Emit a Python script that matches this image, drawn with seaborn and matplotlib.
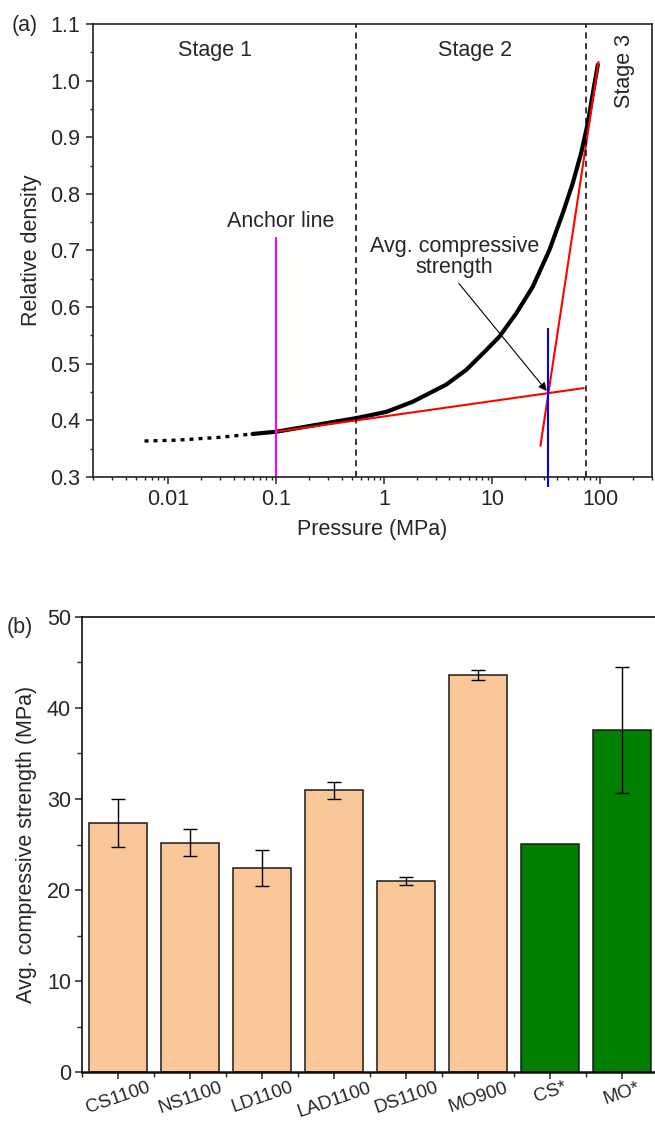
import numpy as np
import pandas as pd
import seaborn as sns
import matplotlib.pyplot as plt
from matplotlib.ticker import FixedLocator, NullFormatter, LogLocator

# ---- panel (a): densification curve ----
pressure = [0.006, 0.0118, 0.0296, 0.06, 0.1, 0.25, 0.547, 1.04, 1.38, 1.83,
            2.80, 3.72, 5.70, 8.74, 11.6, 16.6, 23.6, 33.7, 44.8, 55.4, 66.2,
            76.3, 85.0, 94.5]
rel_density = [0.3636, 0.365, 0.370, 0.376, 0.380, 0.393, 0.404, 0.415, 0.424,
               0.433, 0.451, 0.463, 0.489, 0.524, 0.548, 0.589, 0.636, 0.701,
               0.766, 0.819, 0.872, 0.925, 0.978, 1.028]

tan_low_x = [0.1, 70.0]
tan_low_y = [0.380, 0.457]
tan_high_x = [27.8, 96.0]
tan_high_y = [0.355, 1.033]

stage_bounds = [0.547, 73.7]
anchor_p = 0.1
strength_p = 33.0

# ---- panel (b): compressive strength ----
samples = ['CS1100', 'NS1100', 'LD1100', 'LAD1100', 'DS1100', 'MO900', 'CS*', 'MO*']
strength = [27.35, 25.2, 22.45, 30.95, 20.97, 43.6, 25.06, 37.6]
strength_err = [2.65, 1.45, 2.0, 0.95, 0.42, 0.6, np.nan, 6.9]
group = ['this', 'this', 'this', 'this', 'this', 'this', 'ref', 'ref']

sns.set_theme(style='ticks')
plt.rcParams['font.family'] = ['Liberation Sans', 'DejaVu Sans']
FS = 15.5
plt.rcParams['font.size'] = FS
plt.rcParams['axes.labelsize'] = FS
plt.rcParams['xtick.labelsize'] = FS
plt.rcParams['ytick.labelsize'] = FS
plt.rcParams['axes.linewidth'] = 1.2
plt.rcParams['xtick.major.width'] = 1.1
plt.rcParams['ytick.major.width'] = 1.1
plt.rcParams['xtick.minor.width'] = 1.0
plt.rcParams['ytick.minor.width'] = 1.0

W, H = 655, 1122
fig = plt.figure(figsize=(W / 100, H / 100), dpi=100)
ax1 = fig.add_axes([93 / W, 1 - 477 / H, (652 - 93) / W, (477 - 24) / H])
ax2 = fig.add_axes([82 / W, 1 - 1072.3 / H, (658 - 82) / W, (1072.3 - 616.7) / H])

# ---------------- (a) ----------------
curve = pd.DataFrame({'p': pressure, 'rd': rel_density})
sparse = curve[curve['p'] <= 0.06]
dense = curve[curve['p'] >= 0.06]
sns.lineplot(data=sparse, x='p', y='rd', ax=ax1, color='black', lw=2.4,
             linestyle=(0, (1.2, 1.5)), sort=True)
sns.lineplot(data=dense, x='p', y='rd', ax=ax1, color='black', lw=3.0, sort=True)

sns.lineplot(x=tan_low_x, y=tan_low_y, ax=ax1, color='red', lw=1.5)
sns.lineplot(x=tan_high_x, y=tan_high_y, ax=ax1, color='red', lw=1.5)

for b in stage_bounds:
    ax1.axvline(b, color='black', lw=1.1, linestyle=(0, (4, 3)))
ax1.vlines(anchor_p, 0.3, 0.724, color='magenta', lw=1.5)
ax1.vlines(strength_p, 0.282, 0.564, color='blue', lw=1.5, clip_on=False)

ax1.set_xscale('log')
ax1.set_xlim(0.002, 300)
ax1.set_ylim(0.3, 1.1)
ax1.xaxis.set_major_locator(FixedLocator([0.01, 0.1, 1, 10, 100]))
ax1.set_xticklabels(['0.01', '0.1', '1', '10', '100'])
ax1.xaxis.set_minor_locator(LogLocator(base=10, subs=np.arange(2, 10)))
ax1.xaxis.set_minor_formatter(NullFormatter())
ax1.set_yticks(np.arange(0.3, 1.101, 0.1))
ax1.set_yticklabels([f'{v:.1f}' for v in np.arange(0.3, 1.101, 0.1)])
ax1.set_yticks(np.arange(0.35, 1.1, 0.1), minor=True)
ax1.tick_params(which='major', direction='out', length=5, pad=4)
ax1.tick_params(which='minor', direction='out', length=2.5)
for s in ax1.spines.values():
    s.set_visible(True)
    s.set_color('#222222')
ax1.set_xlabel('Pressure (MPa)', labelpad=6)
ax1.set_ylabel('Relative density', labelpad=6)

ax1.text(0.0267, 1.054, 'Stage 1', ha='center', va='center')
ax1.text(6.97, 1.054, 'Stage 2', ha='center', va='center')
ax1.text(167, 1.017, 'Stage 3', ha='center', va='center', rotation=90)
ax1.text(0.109, 0.751, 'Anchor line', ha='center', va='center')
ax1.text(4.45, 0.689, 'Avg. compressive\nstrength', ha='center', va='center',
         linespacing=1.0)
ax1.annotate('', xy=(31.8, 0.452), xytext=(4.88, 0.642),
             arrowprops=dict(arrowstyle='-|>', color='black', lw=0.8,
                             mutation_scale=12, shrinkA=0, shrinkB=0))
fig.text(12 / W, 1 - 26 / H, '(a)', ha='left', va='center')

# ---------------- (b) ----------------
df = pd.DataFrame({'sample': samples, 'strength': strength, 'group': group})
sns.barplot(data=df, x='sample', y='strength', hue='group', ax=ax2,
            palette={'this': '#FAC898', 'ref': '#007F00'}, dodge=False,
            saturation=1, width=0.8, edgecolor='#1a1a1a', linewidth=1.1,
            legend=False)
err = np.array(strength_err)
mask = ~np.isnan(err)
xpos = np.arange(len(samples))
ax2.errorbar(xpos[mask], np.array(strength)[mask], yerr=err[mask], fmt='none',
             ecolor='black', elinewidth=1.0, capsize=5, capthick=1.0)

ax2.set_xlim(-0.5, 7.5)
ax2.set_ylim(0, 50)
ax2.set_yticks(np.arange(0, 51, 10))
ax2.set_yticks(np.arange(5, 50, 10), minor=True)
ax2.set_xticks(xpos)
ax2.set_xticks(np.arange(-0.5, 8, 1), minor=True)
ax2.set_xticklabels(samples, rotation=19, ha='center', fontsize=13.6)
ax2.tick_params(axis='y', which='major', direction='out', length=5, pad=3)
ax2.tick_params(axis='x', which='major', direction='out', length=5, pad=0)
ax2.tick_params(which='minor', direction='out', length=3.5)
for s in ax2.spines.values():
    s.set_visible(True)
    s.set_color('#111111')
ax2.spines['bottom'].set_linewidth(1.8)
ax2.set_xlabel('')
ax2.set_ylabel('Avg. compressive strength (MPa)', labelpad=7)
fig.text(7 / W, 1 - 628 / H, '(b)', ha='left', va='center')

fig.savefig('out.png', dpi=100)
